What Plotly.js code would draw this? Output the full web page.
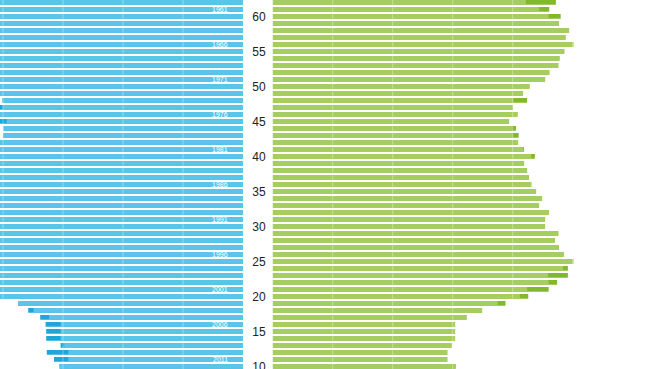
<!DOCTYPE html>
<html>
<head>
<meta charset="utf-8">
<script src="https://cdn.plot.ly/plotly-3.0.1.min.js"></script>
<style>html,body{margin:0;padding:0;background:#fff;}#chart{width:646px;height:369px;}</style>
</head>
<body>
<div id="chart"></div>
<script>
// Ages shown (top to bottom)
const ages = [62,61,60,59,58,57,56,55,54,53,52,51,50,49,48,47,46,45,44,43,42,41,40,39,38,37,36,35,34,33,32,31,30,29,28,27,26,25,24,23,22,21,20,19,18,17,16,15,14,13,12,11,10];
// Right side (green) totals
const rightValues = [472,461,480,477,494,488,501,486,478,476,461,454,428,417,424,400.5,408,394,405.5,410,409,419,437,419,424,427,431,439,449,444,460,454,454,476,470,477,485,501,492,492,474,460,426,388,349,323,304,304,304,298,291,291,305];
// Left side (blue) totals
const leftValues = [422,444,460,480,497,489,505,490,481,479,465,457,431,420,401,415,411,410,399,400,412,418,431,422,427,430,434,442,452,447,463,457,455,479,473,480,488,504,484,459,460,424,412,375,358,338,329,328,328,304,327,315,306];
// Birth-year labels on the left bars
const yearAges = [61,56,51,46,41,36,31,26,21,16,11];
const yearLabels = ["1961","1966","1971","1976","1981","1986","1991","1996","2001","2006","2011"];
const ageTicks = [10,15,20,25,30,35,40,45,50,55,60];
const leftGrid = [100,200,300,400];
const rightGrid = [100,200,300,400,500,600];

const common = ages.map((a,i)=>Math.min(leftValues[i], rightValues[i]));

const C = {blueDark:'#1ba7dc', blueLight:'#5ac4ea', greenDark:'#82b92a', greenLight:'#a6cd5f'};
const bw = 0.67;
const base = {type:'bar', orientation:'h', y:ages, width:bw, hoverinfo:'none', showlegend:false};
const traces = [
  Object.assign({}, base, {x:leftValues, xaxis:'x', yaxis:'y', marker:{color:C.blueDark}}),
  Object.assign({}, base, {x:common, xaxis:'x', yaxis:'y', marker:{color:C.blueLight}}),
  Object.assign({}, base, {x:rightValues, xaxis:'x2', yaxis:'y', marker:{color:C.greenDark}}),
  Object.assign({}, base, {x:common, xaxis:'x2', yaxis:'y', marker:{color:C.greenLight}})
];

const shapes = [];
leftGrid.forEach(v=>shapes.push({type:'line', xref:'x', yref:'paper', x0:v, x1:v, y0:0, y1:1, layer:'above', line:{color:'rgba(255,255,255,0.35)', width:1}}));
rightGrid.forEach(v=>shapes.push({type:'line', xref:'x2', yref:'paper', x0:v, x1:v, y0:0, y1:1, layer:'above', line:{color:'rgba(255,255,255,0.35)', width:1}}));

const annotations = yearAges.map((a,i)=>({xref:'x', yref:'y', x:22, y:a, text:yearLabels[i], showarrow:false, xanchor:'right', yanchor:'middle', font:{family:'Liberation Sans, Arial, sans-serif', size:7, color:'#ffffff'}}));

const layout = {
  width:646, height:369,
  margin:{l:0,r:0,t:0,b:0,pad:0},
  paper_bgcolor:'#ffffff', plot_bgcolor:'rgba(0,0,0,0)',
  barmode:'overlay',
  font:{family:'Liberation Sans, Arial, sans-serif'},
  xaxis:{domain:[0,0.3762], range:[405,0], showticklabels:false, showgrid:false, zeroline:false, showline:false, ticks:'', fixedrange:true},
  xaxis2:{domain:[0.4221,1], range:[0,622.2], showticklabels:false, showgrid:false, zeroline:false, showline:false, ticks:'', fixedrange:true},
  yaxis:{anchor:'x2', side:'left', range:[9.62,62.33], tickvals:ageTicks, ticktext:ageTicks.map(String), ticks:'', ticklabelstandoff:6, ticklabeloverflow:'allow', showgrid:false, zeroline:false, showline:false, tickfont:{size:12, color:'#222222', family:'Liberation Sans, Arial, sans-serif'}, fixedrange:true},
  shapes:shapes,
  annotations:annotations
};

Plotly.newPlot('chart', traces, layout, {displayModeBar:false, staticPlot:true});
</script>
</body>
</html>
